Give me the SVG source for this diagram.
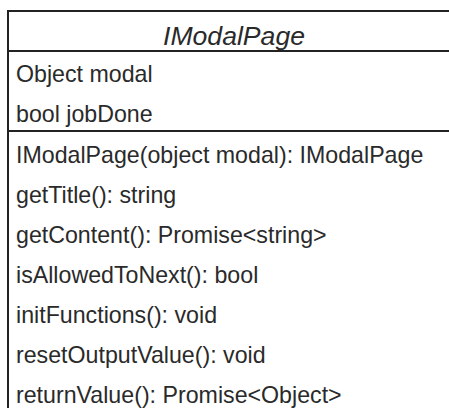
<svg xmlns="http://www.w3.org/2000/svg" width="449" height="408" viewBox="0 0 449 408">
  <style>
    .frame { fill: #ffffff; stroke: #222222; stroke-width: 2; }
    .sep { stroke: #222222; stroke-width: 2; fill: none; }
    .title { font-family: "Liberation Sans", Arial, sans-serif; font-size: 26.6px; font-style: italic; fill: #2a2a2a; text-anchor: middle; }
    .member { font-family: "Liberation Sans", Arial, sans-serif; font-size: 23.2px; fill: #2a2a2a; }
  </style>
  <rect width="449" height="408" fill="#ffffff"/>
  <g id="IModalPage">
    <rect class="frame" x="8" y="11" width="452" height="420"/>
    <text class="title" x="234" y="44.5">IModalPage</text>
    <line class="sep" x1="8" y1="51" x2="460" y2="51"/>
    <!-- attributes -->
    <text class="member" x="16" y="82">Object modal</text>
    <text class="member" x="16" y="122">bool jobDone</text>
    <line class="sep" x1="8" y1="131" x2="460" y2="131"/>
    <!-- operations -->
    <text class="member" x="16" y="163">IModalPage(object modal): IModalPage</text>
    <text class="member" x="16" y="203">getTitle(): string</text>
    <text class="member" x="16" y="243">getContent(): Promise&lt;string&gt;</text>
    <text class="member" x="16" y="283">isAllowedToNext(): bool</text>
    <text class="member" x="16" y="323">initFunctions(): void</text>
    <text class="member" x="16" y="363">resetOutputValue(): void</text>
    <text class="member" x="16" y="403">returnValue(): Promise&lt;Object&gt;</text>
  </g>
</svg>
